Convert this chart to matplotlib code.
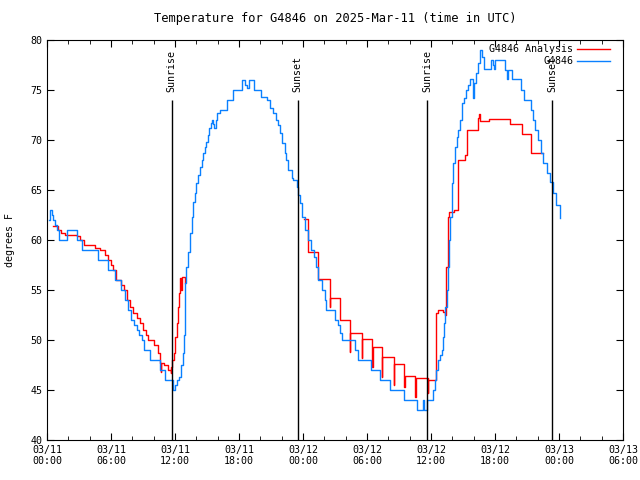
import matplotlib
matplotlib.use("Agg")
import matplotlib.pyplot as plt
import numpy as np

# hours since 2025-03-11 00:00 UTC, temperature in degrees F
obs_hours = [0.15, 0.3, 0.45, 0.6, 0.75, 0.95, 1.15, 1.85, 2.8, 3.25, 4.8, 5.7,
             6.4, 6.9, 7.3, 7.6, 7.9, 8.2, 8.4, 8.6, 8.9, 9.1, 9.66, 10.6, 11.1,
             11.85, 12.0, 12.16, 12.4, 12.55, 12.75, 12.85, 12.94, 13.05, 13.2,
             13.4, 13.55, 13.7, 13.85, 14.0, 14.2, 14.35, 14.5, 14.65, 14.8,
             14.95, 15.1, 15.2, 15.35, 15.45, 15.55, 15.66, 15.8, 15.9, 16.2,
             16.9, 17.4, 18.3, 18.6, 18.75, 18.9, 19.4, 20.1, 20.65, 20.9, 21.2,
             21.5, 21.7, 21.84, 22.0, 22.3, 22.45, 22.6, 22.94, 23.1, 23.4,
             23.55, 23.7, 23.9, 24.2, 24.5, 24.75, 25.0, 25.2, 25.4, 25.75,
             26.1, 26.2, 27.0, 27.3, 27.5, 27.7, 28.9, 29.2, 30.4, 31.2, 32.2,
             33.5, 34.66, 35.27, 35.35, 35.65, 36.2, 36.35, 36.5, 36.7, 36.84,
             37.0, 37.15, 37.25, 37.35, 37.47, 37.56, 37.7, 37.8, 37.94, 38.1,
             38.25, 38.4, 38.56, 38.7, 38.9, 39.05, 39.25, 39.45, 39.66, 39.97,
             40.05, 40.2, 40.4, 40.6, 40.75, 40.95, 41.65, 41.8, 41.9, 42.0,
             42.9, 43.1, 43.2, 43.6, 44.45, 44.7, 45.35, 45.55, 45.75, 46.0,
             46.3, 46.5, 46.84, 47.16, 47.4, 47.7, 48.1]
obs_temps = [62, 63, 62.5, 62, 61.5, 61, 60, 61, 60, 59, 58, 57,
             56, 55, 54, 53, 52, 51.5, 51, 50.5, 50, 49, 48, 47, 46,
             45, 45.5, 46, 46.3, 47.5, 48.7, 50.5, 55.7, 57.3, 58.8,
             60.7, 62.3, 63.8, 64.7, 65.7, 66.5, 67.3, 68, 68.7, 69.3,
             69.8, 70.5, 71.2, 71.7, 72, 71.6, 71.2, 72, 72.7, 73,
             74, 75, 76, 75.5, 75.2, 76, 75, 74.3, 74, 73.2, 72.7,
             72, 71.5, 70.7, 69.7, 68.7, 68, 67, 66.2, 66, 65.3,
             64.5, 63.7, 62.3, 61, 60, 59, 58.3, 57.3, 56, 55,
             54, 53, 52, 51.5, 50.7, 50, 49, 48, 47, 46, 45,
             44, 43, 44, 43, 44, 45, 46, 47, 48, 48.5,
             49, 50.3, 51.7, 53.3, 55, 57.3, 60, 62.3, 65.7, 67.7,
             69.3, 70.3, 71, 72, 73.7, 74.2, 75, 75.5, 76.1, 74.2,
             75.7, 76.7, 77.7, 79, 78.3, 77.1, 78, 77.5, 77.1, 78,
             77, 76.1, 77, 76.1, 75, 74, 73, 72, 71, 70,
             68.7, 67.7, 66.7, 65.8, 64.7, 63.5, 62.2]

ana_hours = [0.6, 1.0, 1.3, 1.7, 2.8, 3.1, 3.5, 4.5, 5.0, 5.4, 5.75, 6.0, 6.2,
             6.5, 6.9, 7.2, 7.5, 7.8, 8.1, 8.4, 8.7, 9.0, 9.3, 9.5, 10.0, 10.4,
             10.6, 10.65, 10.7, 11.0, 11.3, 11.6, 11.65, 11.75, 11.9, 12.0,
             12.16, 12.25, 12.4, 12.5, 12.6, 12.7, 12.9, 12.95,
             24.1, 24.5, 25.4, 26.5, 26.55, 27.5, 28.4, 28.45, 29.5, 29.55,
             30.5, 30.55, 31.4, 31.45, 32.5, 32.55, 33.5, 33.55, 34.5, 34.55,
             35.7, 35.75, 36.5, 36.65, 37.1, 37.3, 37.45, 37.55, 37.7, 38.2,
             38.5, 38.55, 39.2, 39.35, 40.4, 40.5, 40.6, 41.4, 43.4, 44.5,
             45.4, 46.5]
ana_temps = [61.4, 61, 60.7, 60.5, 60.4, 60, 59.5, 59.2, 59, 58.5, 58, 57.5, 57,
             56, 55.5, 55, 54, 53.3, 52.7, 52.2, 51.7, 51, 50.5, 50, 49.5, 48.7,
             47.7, 46.8, 47.7, 47.5, 47, 46.7, 47.3, 48, 48.7, 50.3,
             51.7, 53.3, 54.7, 56.2, 55, 56.3, 55.7, np.nan,
             62.1, 58.8, 56.1, 53.3, 54.2, 52, 48.8, 50.7, 48.2, 50.1,
             47.3, 49.3, 46.3, 48.3, 45.5, 47.6, 45.3, 46.4, 44.3, 46.2,
             44.7, 46, 52.7, 53, 52.8, 52.5, 57.3, 62.3, 62.8, 63,
             65.5, 68, 68.5, 71, 72.2, 72.6, 71.9, 72.1, 71.6, 70.6,
             68.7, 68.7]

sun_hours = [11.69, 23.5, 35.66, 47.37]
sun_labels = ["Sunrise", "Sunset", "Sunrise", "Sunset"]

tick_hours = np.arange(0, 55, 6)
tick_labels = ["03/11\n00:00", "03/11\n06:00", "03/11\n12:00", "03/11\n18:00",
               "03/12\n00:00", "03/12\n06:00", "03/12\n12:00", "03/12\n18:00",
               "03/13\n00:00", "03/13\n06:00"]

plt.rcParams['font.family'] = ['DejaVu Sans Mono']
plt.rcParams['font.size'] = 7.2

fig = plt.figure(figsize=(6.4, 4.8), dpi=100)
ax = fig.add_axes([47 / 640, 40 / 480, 576 / 640, 400 / 480])

ax.plot(ana_hours, ana_temps, drawstyle='steps-post', color='#ff0000',
        lw=1.0, label='G4846 Analysis')
ax.plot(obs_hours, obs_temps, drawstyle='steps-post', color='#0a80ff',
        lw=1.0, label='G4846')

for h, name in zip(sun_hours, sun_labels):
    ax.vlines(h, 40, 74, color='black', lw=1.0)
    ax.text(h, 74.8, name, rotation=90, ha='center', va='bottom')

ax.set_xlim(0, 54)
ax.set_ylim(40, 80)
ax.set_xticks(tick_hours)
ax.set_xticklabels(tick_labels)
ax.set_xticks(np.arange(0, 55, 2), minor=True)
ax.set_yticks(np.arange(40, 81, 5))
ax.tick_params(which='both', direction='in', top=True, right=True)
ax.tick_params(which='major', length=5)
ax.tick_params(which='minor', length=3)
ax.set_ylabel('degrees F')
ax.yaxis.set_label_coords(-0.056, 0.5)
ax.set_title('Temperature for G4846 on 2025-Mar-11 (time in UTC)', pad=13)

leg = ax.legend(loc='upper right', bbox_to_anchor=(0.988, 1.005),
                frameon=False, markerfirst=False, handlelength=3.3,
                handletextpad=0.4, borderaxespad=0.2, labelspacing=0.2)
for t in leg.get_texts():
    t.set_ha('right')

fig.savefig('out.png', dpi=100)
